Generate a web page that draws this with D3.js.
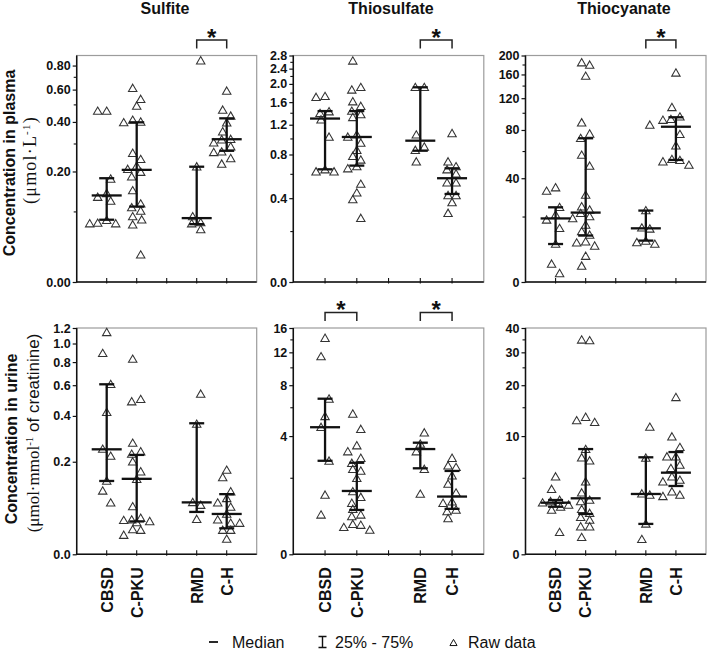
<!DOCTYPE html>
<html><head><meta charset="utf-8">
<script src="https://cdn.jsdelivr.net/npm/d3@7"></script>
<style>body{margin:0;background:#fff}svg{display:block}</style>
</head><body><svg id="c" width="709" height="649"></svg>
<script>
// ---------- DATA ----------
const groups = ["CBSD", "C-PKU", "RMD", "C-H"];
const analytes = ["Sulfite", "Thiosulfate", "Thiocyanate"];

// Raw data (plasma, µmol/L)
const sulfitePlasma = [
  [0.46,0.46,0.178,0.14,0.131,0.122,0.083,0.078,0.077,0.077],
  [0.61,0.533,0.49,0.41,0.40,0.397,0.262,0.24,0.217,0.207,0.198,0.184,0.147,0.116,0.108,0.101,0.09,0.084,0.075,0.03],
  [0.847,0.215,0.09,0.079,0.077,0.067],
  [0.59,0.466,0.432,0.396,0.352,0.318,0.316,0.303,0.287,0.267,0.265,0.243,0.224]
];
const sulfitePlasmaMedian = [0.135,0.205,0.087,0.318];
const sulfitePlasmaQ1 = [0.084,0.11,0.076,0.271];
const sulfitePlasmaQ3 = [0.18,0.398,0.215,0.419];

const thiosulfatePlasma = [
  [1.72,1.70,1.42,1.39,1.28,1.02,0.64,0.62,0.62],
  [2.63,1.92,1.86,1.61,1.52,1.43,1.37,1.32,1.05,1.02,0.94,0.85,0.78,0.74,0.67,0.65,0.51,0.44,0.39,0.27],
  [1.92,1.92,1.05,0.89,0.85,0.72],
  [1.07,0.72,0.67,0.64,0.60,0.52,0.52,0.42,0.42,0.37,0.30]
];
const thiosulfatePlasmaMedian = [1.30,1.02,0.97,0.56];
const thiosulfatePlasmaQ1 = [0.643,0.68,0.844,0.431];
const thiosulfatePlasmaQ3 = [1.43,1.43,1.92,0.653];

const thiocyanatePlasma = [
  [34.3,32.4,24.1,20.7,18.6,15.3,9.9,4.2,1.9],
  [184,179,157,88,75.9,71.6,56.7,48.3,30.2,24.4,22.9,21.4,20.0,19.2,16.6,14.1,12.9,10.6,10.3,9.3,6.3,3.7],
  [85.4,22.6,15.5,15.1,10.9,10.4,9.9],
  [163,107,95,92,91,75.5,64.7,53.3,52.5,51.5,49]
];
const thiocyanatePlasmaMedian = [19.2,21.7,15.3,83.5];
const thiocyanatePlasmaQ1 = [9.9,12.7,11.0,52.8];
const thiocyanatePlasmaQ3 = [24.1,71.6,22.6,94.4];

// Raw data (urine, µmol/mmol creatinine)
const sulfiteUrine = [
  [1.14,0.89,0.607,0.42,0.246,0.22,0.141,0.115,0.087],
  [0.83,0.50,0.485,0.27,0.236,0.227,0.20,0.168,0.146,0.079,0.056,0.053,0.052,0.05,0.048,0.036,0.035,0.027],
  [0.536,0.357,0.088,0.082,0.054],
  [0.173,0.151,0.113,0.097,0.087,0.078,0.064,0.053,0.047,0.047,0.035,0.035,0.021]
];
const sulfiteUrineMedian = [0.245,0.147,0.088,0.064];
const sulfiteUrineQ1 = [0.141,0.05,0.068,0.038];
const sulfiteUrineQ3 = [0.607,0.224,0.361,0.107];

const thiosulfateUrine = [
  [14.2,11.4,6.7,5.3,4.55,2.7,1.4,0.83],
  [5.48,4.42,3.46,3.15,2.83,2.6,2.34,2.27,1.98,1.51,1.33,1.15,0.98,0.83,0.79,0.60,0.58,0.53,0.47],
  [4.2,3.55,3.15,2.34,1.43],
  [2.83,2.49,2.42,2.08,1.77,1.47,1.19,1.15,0.96,0.92,0.74]
];
const thiosulfateUrineMedian = [4.55,1.53,3.28,1.35];
const thiosulfateUrineQ1 = [2.71,0.96,2.38,0.99];
const thiosulfateUrineQ3 = [6.72,2.62,3.62,2.27];

const thiocyanateUrine = [
  [5.1,3.97,3.1,3.0,2.9,2.75,2.6,2.4,1.05],
  [34.8,34.5,13.1,12.5,12.2,8.17,7.13,6.78,4.63,3.68,3.11,3.0,2.44,2.18,1.92,1.75,1.36,1.36,0.79],
  [11.4,7.1,3.6,3.5,1.52,0.69],
  [17.1,9.9,8.43,7.25,7.25,6.3,5.95,5.1,4.78,4.63,3.76,3.5,3.39]
];
const thiocyanateUrineMedian = [2.91,3.24,3.58,5.5];
const thiocyanateUrineQ1 = [2.62,2.13,1.52,4.25];
const thiocyanateUrineQ3 = [3.11,8.2,7.18,7.82];

// Axis tops and tick labels
const axisTop = [0.9, 2.8, 200, 1.2, 16, 40];
const majorTicks = [
  [0, 0.2, 0.4, 0.6, 0.8],
  [0, 0.4, 0.8, 1.2, 1.6, 2.0, 2.4, 2.8],
  [0, 40, 80, 120, 160, 200],
  [0, 0.2, 0.4, 0.6, 0.8, 1.0, 1.2],
  [0, 4, 8, 12, 16],
  [0, 10, 20, 30, 40]
];
const minorTicks = [
  [0.1, 0.3, 0.5, 0.7],
  [0.2, 0.6, 1.0, 1.4, 1.8, 2.2, 2.6],
  [20, 60, 100, 140, 180],
  [],
  [2, 6, 10, 14],
  [5, 15, 25, 35]
];
const tickFormats = [".2f", ".1f", "d", ".1f", "d", "d"];
// significant pairs (group indices)
const sigPairs = [[[2,3]], [[2,3]], [[2,3]], [], [[0,1],[2,3]], []];

// ---------- LAYOUT ----------
const FONT = '"Liberation Sans", Arial, Helvetica, sans-serif';
const SERIF = '"Liberation Serif", "Times New Roman", serif';
const cols = [[76.7, 256.7], [293.3, 483.8], [525.5, 706]];
const rows = [[55.5, 282], [328, 554.3]];
const slot = [1, 2, 4, 5];

const svg = d3.select("#c");

const panels = [
  {r:0,c:0,data:sulfitePlasma,med:sulfitePlasmaMedian,q1:sulfitePlasmaQ1,q3:sulfitePlasmaQ3},
  {r:0,c:1,data:thiosulfatePlasma,med:thiosulfatePlasmaMedian,q1:thiosulfatePlasmaQ1,q3:thiosulfatePlasmaQ3},
  {r:0,c:2,data:thiocyanatePlasma,med:thiocyanatePlasmaMedian,q1:thiocyanatePlasmaQ1,q3:thiocyanatePlasmaQ3},
  {r:1,c:0,data:sulfiteUrine,med:sulfiteUrineMedian,q1:sulfiteUrineQ1,q3:sulfiteUrineQ3},
  {r:1,c:1,data:thiosulfateUrine,med:thiosulfateUrineMedian,q1:thiosulfateUrineQ1,q3:thiosulfateUrineQ3},
  {r:1,c:2,data:thiocyanateUrine,med:thiocyanateUrineMedian,q1:thiocyanateUrineQ1,q3:thiocyanateUrineQ3}
];

function dodge(vals, y, seedShift) {
  const pts = vals.map((v, i) => ({v, y: y(v), i})).sort((a, b) => a.y - b.y);
  const placed = [];
  const base = [[0,-5,5],[-4,4,0],[4,-4,0]];
  pts.forEach((p, k) => {
    const b = base[(k + seedShift) % 3];
    const cands = b.concat([-9, 9, -13, 13, -17, 17]);
    let chosen = null;
    for (const dx of cands) {
      if (placed.every(q => Math.abs(q.y - p.y) >= 6 || Math.abs(q.dx - dx) >= 8)) { chosen = dx; break; }
    }
    p.dx = chosen === null ? 0 : chosen;
    placed.push(p);
  });
  return placed;
}

const tri = d3.symbol().type(d3.symbolTriangle).size(31);

panels.forEach((p, pi) => {
  const [x0, x1] = cols[p.c];
  const [y0, y1] = rows[p.r];
  const x = d3.scaleLinear().domain([0, 6]).range([x0, x1]);
  const T = axisTop[pi];
  const y = d3.scaleSymlog().constant(T / 10).domain([0, T]).range([y1, y0]);
  const g = svg.append("g");

  // frame
  g.append("rect").attr("x", x0).attr("y", y0).attr("width", x1 - x0).attr("height", y1 - y0)
    .attr("fill", "none").attr("stroke", "#9c9c9c").attr("stroke-width", 1.2);

  // y axis major
  const ya = g.append("g").attr("transform", `translate(${x0},0)`)
    .call(d3.axisLeft(y).tickValues(majorTicks[pi]).tickFormat(d3.format(tickFormats[pi])).tickSize(4).tickPadding(2));
  ya.select(".domain").remove();
  ya.selectAll("line").attr("stroke", "#111").attr("stroke-width", 1.2);
  ya.selectAll("text").attr("font-family", FONT).attr("font-size", 12.5).attr("font-weight", "bold").attr("fill", "#111");
  // minor
  const ym = g.append("g").attr("transform", `translate(${x0},0)`)
    .call(d3.axisLeft(y).tickValues(minorTicks[pi]).tickFormat("").tickSize(3));
  ym.select(".domain").remove();
  ym.selectAll("line").attr("stroke", "#111").attr("stroke-width", 1.1);

  // axis lines
  g.append("line").attr("x1", x0).attr("x2", x0).attr("y1", y0).attr("y2", y1 + 0.6).attr("stroke", "#111").attr("stroke-width", 1.5);
  g.append("line").attr("x1", x0).attr("x2", x1).attr("y1", y1).attr("y2", y1).attr("stroke", "#111").attr("stroke-width", 1.5);
  // x ticks
  g.selectAll(".xt").data([1, 2, 3, 4, 5]).join("line")
    .attr("x1", d => x(d)).attr("x2", d => x(d)).attr("y1", y1 - 4).attr("y2", y1 + 1.5)
    .attr("stroke", "#111").attr("stroke-width", 1.1);

  // raw data triangles
  p.data.forEach((vals, gi) => {
    const cx = x(slot[gi]);
    const pts = dodge(vals, y, gi);
    g.selectAll(null).data(pts).join("path")
      .attr("d", tri)
      .attr("transform", d => `translate(${cx + d.dx},${d.y + 0.8})`)
      .attr("fill", "none").attr("stroke", "#333").attr("stroke-width", 1.05);
  });

  // IQR bars and medians
  groups.forEach((gname, gi) => {
    const cx = x(slot[gi]);
    const lw = 2.3;
    g.append("line").attr("x1", cx).attr("x2", cx).attr("y1", y(p.q1[gi])).attr("y2", y(p.q3[gi]))
      .attr("stroke", "#111").attr("stroke-width", lw);
    [p.q1[gi], p.q3[gi]].forEach(v => {
      g.append("line").attr("x1", cx - 7.5).attr("x2", cx + 7.5).attr("y1", y(v)).attr("y2", y(v))
        .attr("stroke", "#111").attr("stroke-width", lw);
    });
    g.append("line").attr("x1", cx - 15).attr("x2", cx + 15).attr("y1", y(p.med[gi])).attr("y2", y(p.med[gi]))
      .attr("stroke", "#111").attr("stroke-width", lw);
  });

  // significance brackets
  sigPairs[pi].forEach(([a, b]) => {
    const xa = x(slot[a]), xb = x(slot[b]);
    const top = y0 - 15.5, leg = y0 - 7;
    g.append("path").attr("d", `M${xa},${leg}V${top}H${xb}V${leg}`)
      .attr("fill", "none").attr("stroke", "#222").attr("stroke-width", 1.5);
    g.append("text").attr("x", (xa + xb) / 2).attr("y", top + 5.5).attr("text-anchor", "middle")
      .attr("font-family", FONT).attr("font-weight", "bold").attr("font-size", 24).attr("fill", "#111").text("*");
  });

  // x labels on bottom row
  if (p.r === 1) {
    groups.forEach((gname, gi) => {
      const cx = x(slot[gi]);
      g.append("text").attr("transform", `translate(${cx + 5.8},${y1 + 13}) rotate(-90)`)
        .attr("text-anchor", "end").attr("font-family", FONT).attr("font-weight", "bold")
        .attr("font-size", 16).attr("fill", "#111").text(gname);
    });
  }
  // titles
  if (p.r === 0) {
    const tx = [165, 391, 624][p.c];
    svg.append("text").attr("x", tx).attr("y", 14).attr("text-anchor", "middle")
      .attr("font-family", FONT).attr("font-weight", "bold").attr("font-size", 16).attr("fill", "#111")
      .text(analytes[p.c]);
  }
});

// y-axis titles
svg.append("text").attr("transform", "translate(15,163) rotate(-90)").attr("text-anchor", "middle")
  .attr("font-family", FONT).attr("font-weight", "bold").attr("font-size", 16).attr("fill", "#111")
  .text("Concentration in plasma");
const t2 = svg.append("text").attr("transform", "translate(35.5,160) rotate(-90)").attr("text-anchor", "middle")
  .attr("font-family", SERIF).attr("font-size", 18).attr("letter-spacing", 1.2).attr("fill", "#111");
t2.append("tspan").text("(μmol·L");
t2.append("tspan").attr("font-size", 11).attr("baseline-shift", "super").text("-1");
t2.append("tspan").text(")");

svg.append("text").attr("transform", "translate(16.5,439) rotate(-90)").attr("text-anchor", "middle")
  .attr("font-family", FONT).attr("font-weight", "bold").attr("font-size", 16).attr("fill", "#111")
  .text("Concentration in urine");
const t4 = svg.append("text").attr("transform", "translate(38.5,433) rotate(-90)").attr("text-anchor", "middle")
  .attr("font-size", 17).attr("fill", "#111");
t4.append("tspan").attr("font-family", SERIF).text("(μmol·mmol");
t4.append("tspan").attr("font-family", SERIF).attr("font-size", 11).attr("baseline-shift", "super").text("-1");
t4.append("tspan").attr("font-family", FONT).text(" of creatinine)");

// legend
const ly = 647.5;
const lg = svg.append("g").attr("font-family", FONT).attr("font-size", 16).attr("fill", "#111");
lg.append("line").attr("x1", 209).attr("x2", 218).attr("y1", ly - 5.5).attr("y2", ly - 5.5).attr("stroke", "#111").attr("stroke-width", 1.8);
lg.append("text").attr("x", 232).attr("y", ly).text("Median");
lg.append("path").attr("d", `M318.5,${ly-11}H326.5M322.5,${ly-11}V${ly}M318.5,${ly}H326.5`).attr("stroke", "#111").attr("stroke-width", 1.4).attr("fill", "none");
lg.append("text").attr("x", 335).attr("y", ly).text("25% - 75%");
lg.append("path").attr("d", d3.symbol().type(d3.symbolTriangle).size(22)).attr("transform", `translate(453.5,${ly-4})`)
  .attr("fill", "none").attr("stroke", "#111").attr("stroke-width", 1);
lg.append("text").attr("x", 468).attr("y", ly).text("Raw data");
</script>
</body></html>
